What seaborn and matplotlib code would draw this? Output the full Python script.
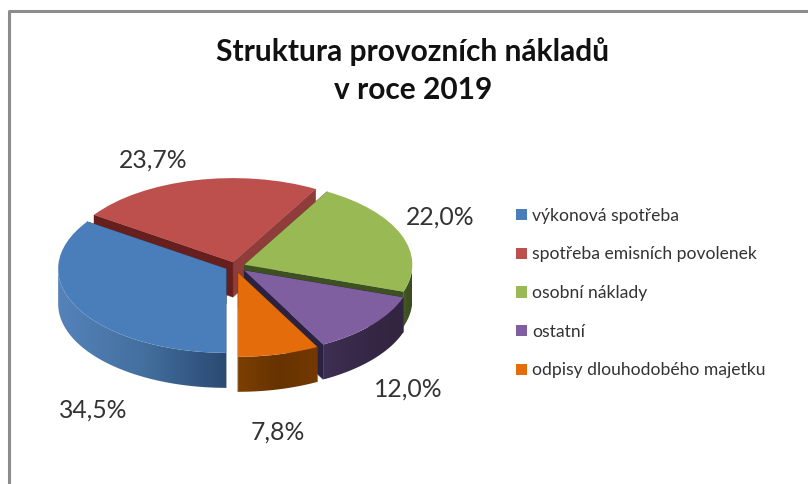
# struktura provoznich nakladu - pie with fake 3D depth
import numpy as np
import seaborn as sns
import matplotlib
matplotlib.use("Agg")
import matplotlib.pyplot as plt
from matplotlib.colors import LinearSegmentedColormap
from matplotlib.patches import Polygon

categories = ["výkonová spotřeba", "spotřeba emisních povolenek", "osobní náklady",
              "ostatní", "odpisy dlouhodobého majetku"]
values = [34.5, 23.7, 22.0, 12.0, 7.8]
value_labels = ["34,5%", "23,7%", "22,0%", "12,0%", "7,8%"]
title_lines = ["Struktura provozních nákladů", "v roce 2019"]

face_colors = ["#4a7ebb", "#bd4f4c", "#98b954", "#7f5f9f", "#e46c0a"]
rim_colors = [["#5582ba", "#44709f", "#2a4a73"], ["#7f3331", "#7f3331", "#7f3331"],
              ["#46592a", "#3d5120", "#3a4c1e"], ["#3e2f55", "#362846", "#32253f"],
              ["#7c3f02", "#673300", "#733900"]]
cut_colors = [["#2a4a73", "#2a4a73"], ["#8f3c3a", "#661f1d"], ["#3d5120", "#3d5120"],
              ["#2b2140", "#2b2140"], ["#7c3f02", "#7c3f02"]]
# label centres in pixels
label_px = [(93, 410), (153, 160), (440, 217), (408, 389), (278, 432)]

W, H = 808, 484
SQUASH = 2.0       # y data units per pixel
DEPTH = 35 * SQUASH
RADIUS = 168
CENTER = (235, -533)
EXPLODE = [10, 9, 10, 12, 13]
DRAW_ORDER = [1, 2, 0, 3, 4]  # back to front


def arc_points(w, t1, t2, dy=0, n=80):
    t = np.radians(np.linspace(t1, t2, n))
    return np.column_stack([w.center[0] + w.r * np.cos(t),
                            w.center[1] + w.r * np.sin(t) + dy])


def draw_rim(ax, w, colors, z):
    # only the part of the outer edge turned to the viewer
    pieces = []
    for lo, hi in [(-180, 0), (180, 360), (540, 720)]:
        t1, t2 = max(w.theta1, lo), min(w.theta2, hi)
        if t2 > t1:
            pieces.append((t1, t2))
    for t1, t2 in pieces:
        top = arc_points(w, t1, t2)
        bottom = arc_points(w, t1, t2, -DEPTH)[::-1]
        poly = Polygon(np.vstack([top, bottom]), closed=True, fc="none", ec="none",
                       transform=ax.transData)
        ax.add_patch(poly)
        xs = np.vstack([top, bottom])
        cmap = LinearSegmentedColormap.from_list("rim", colors)
        im = ax.imshow(np.linspace(0, 1, 256)[None, :], cmap=cmap, aspect="auto", zorder=z,
                       extent=[xs[:, 0].min(), xs[:, 0].max(), xs[:, 1].min(), xs[:, 1].max()])
        im.set_clip_path(poly)


def draw_cuts(ax, w, colors, z):
    for t, col in zip([w.theta1, w.theta2], colors):
        edge = arc_points(w, t, t, n=1)[0]
        apex = np.array(w.center)
        quad = [apex, edge, edge - (0, DEPTH), apex - (0, DEPTH)]
        ax.add_patch(Polygon(quad, closed=True, fc=col, ec=col, lw=0.3, zorder=z))


sns.set_theme(style="white")
plt.rcParams["font.family"] = ["Lato", "DejaVu Sans"]

fig = plt.figure(figsize=(W / 100, H / 100), dpi=100, facecolor="white")
ax = fig.add_axes([0, 0, 1, 1])

wedges, _ = ax.pie(values, colors=sns.color_palette(face_colors), startangle=270,
                   counterclock=False, explode=EXPLODE, radius=RADIUS, center=CENTER)

for rank, i in enumerate(DRAW_ORDER):
    w = wedges[i]
    z = 2 + rank * 3
    draw_cuts(ax, w, cut_colors[i], z)
    draw_rim(ax, w, rim_colors[i], z + 1)
    w.set_zorder(z + 2)
    w.set_linewidth(0)

ax.set_aspect("auto")
ax.set_xlim(0, W)
ax.set_ylim(-H * SQUASH, 0)
ax.axis("off")

# frame only on the left and top, the screenshot cuts the rest
ax.plot([9, 9, W], [-H * SQUASH, -11 * SQUASH, -11 * SQUASH], color="#8c8c8c", lw=2.2, zorder=30)

fig.text(413 / W, 1 - 52 / H, title_lines[0], ha="center", va="center", fontsize=21.5,
         fontweight="bold", color="#111111")
fig.text(413 / W, 1 - 90 / H, title_lines[1], ha="center", va="center", fontsize=21.5,
         fontweight="bold", color="#111111")

for txt, (px, py) in zip(value_labels, label_px):
    fig.text(px / W, 1 - py / H, txt, ha="center", va="center", fontsize=17.8, color="#333333")

ax.legend(wedges, categories, loc="upper left", bbox_to_anchor=(507.5 / W, 1 - 199 / H),
          bbox_transform=fig.transFigure, frameon=False, fontsize=12.6, labelcolor="#333333",
          handlelength=0.62, handleheight=0.62, handletextpad=0.3, labelspacing=1.295,
          borderpad=0.5, borderaxespad=0)

fig.savefig("out.png", dpi=100)
